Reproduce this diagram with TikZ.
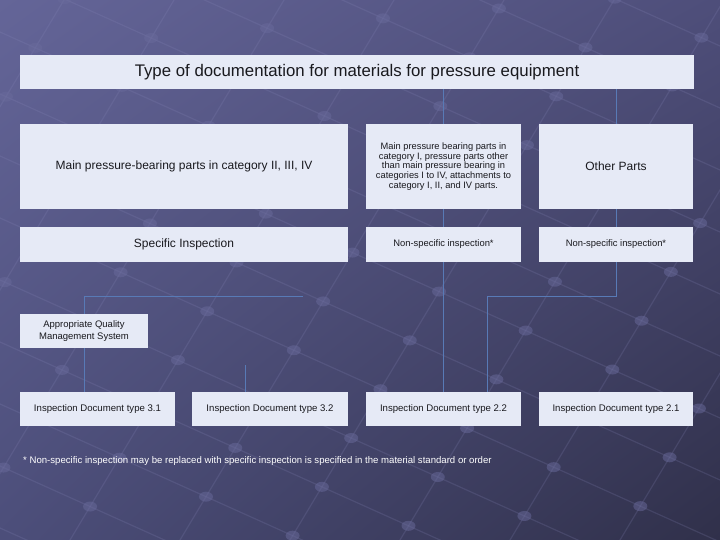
\documentclass[tikz,border=0pt]{standalone}
\usepackage{fontspec}
\setmainfont{Liberation Sans}
\usepackage{tikz}
\usetikzlibrary{calc,shadings}
\pgfdeclarelayer{background}
\pgfsetlayers{background,main}
\definecolor{boxfill}{RGB}{230,234,246}
\definecolor{boxtext}{RGB}{25,25,30}
\definecolor{linkblue}{RGB}{88,122,182}
\definecolor{netline}{RGB}{135,135,185}
\definecolor{netdot}{RGB}{105,106,155}
\tikzset{
   panel/.style={rectangle, fill=boxfill, draw=none, inner sep=2pt, align=center, text=boxtext},
   headbox/.style={panel, minimum width=674, minimum height=34, font=\fontsize{16.8}{20}\selectfont},
   partbox/.style={panel, minimum height=85},
   checkbox/.style={panel, minimum height=35},
   docbox/.style={panel, minimum height=34, font=\fontsize{9.6}{11}\selectfont},
   small/.style={font=\fontsize{9.3}{9.9}\selectfont},
   large/.style={font=\fontsize{12}{14}\selectfont},
   link/.style={draw=linkblue, line width=0.7pt},
   net/.style={draw=netline, line width=1.2pt, opacity=0.2},
   netknot/.style={fill=netdot, opacity=0.5}
}

\begin{document}
\begin{tikzpicture}[x=1pt, y=-1pt]
\useasboundingbox (0,0) rectangle (720,540);

% boxes
\node[headbox] (title) at (357,72) {Type of documentation for materials for pressure equipment};

\node[partbox,large,minimum width=328] (main) at (184,166.5) {Main pressure-bearing parts in category II, III, IV};
\node[partbox,small,minimum width=155] (mid) at (443.5,166.5) {Main pressure bearing parts in\\category I, pressure parts other\\than main pressure bearing in\\categories I to IV, attachments to\\category I, II, and IV parts.};
\node[partbox,large,minimum width=154] (other) at (616,166.5) {Other Parts};

\node[checkbox,large,minimum width=328] (spec) at (184,244.5) {Specific Inspection};
\node[checkbox,font=\fontsize{9.4}{11}\selectfont,minimum width=155] (nsmid) at (443.5,244.5) {Non-specific inspection*};
\node[checkbox,font=\fontsize{9.4}{11}\selectfont,minimum width=154] (nsother) at (616,244.5) {Non-specific inspection*};

\node[panel,minimum width=128,minimum height=34,font=\fontsize{9.5}{12}\selectfont] (qms) at (84,331) {Appropriate Quality\\Management System};

\node[docbox,minimum width=155] (d31) at (97.5,409) {Inspection Document type 3.1};
\node[docbox,minimum width=156] (d32) at (270,409) {Inspection Document type 3.2};
\node[docbox,minimum width=155] (d22) at (443.5,409) {Inspection Document type 2.2};
\node[docbox,minimum width=154] (d21) at (616,409) {Inspection Document type 2.1};

\node[anchor=west,text=white,inner sep=0pt,font=\fontsize{9.6}{11}\selectfont] (note) at (23,461) {* Non-specific inspection may be replaced with specific inspection is specified in the material standard or order};

\coordinate (jl) at (303,296);
\coordinate (jr) at (487,296);
\coordinate (js) at (245,365);

\begin{pgfonlayer}{background}
% slide background
\shade[upper left={rgb,255:red,100;green,101;blue,152}, upper right={rgb,255:red,78;green,78;blue,122},
       lower left={rgb,255:red,76;green,78;blue,122}, lower right={rgb,255:red,48;green,48;blue,74}]
   (0,0) rectangle (720,540);
\begin{scope}
\clip (0,0) rectangle (720,540);
\foreach \a in {-700,-590,...,800}{
   \draw[net] (\a-60,640) -- (\a+384,-100);
}
\foreach \b in {-340,-278,...,560}{
   \draw[net] (-20,\b-9) -- (740,\b+333);
}
\foreach \a in {-700,-590,...,800}{
   \foreach \b in {-340,-278,...,560}{
      \pgfmathsetmacro{\kx}{(\a+324-0.6*\b)/1.27}
      \pgfmathsetmacro{\ky}{\b+0.45*\kx}
      \fill[netknot] (\kx,\ky) ellipse (7 and 5);
   }
}
\end{scope}

% connectors
\draw[link] (title.south -| mid.north) -- (mid.north);
\draw[link] (title.south -| other.north) -- (other.north);
\draw[link] (mid.south) -- (nsmid.north);
\draw[link] (other.south) -- (nsother.north);
\draw[link] (nsmid.south) -- (d22.north);
\draw[link] (nsother.south) |- (jr) -- (jr |- d22.north);
\draw[link] (jl) -| (qms.center |- d31.north);
\draw[link] (js) -- (js |- d32.north);
\end{pgfonlayer}
\end{tikzpicture}
\end{document}
